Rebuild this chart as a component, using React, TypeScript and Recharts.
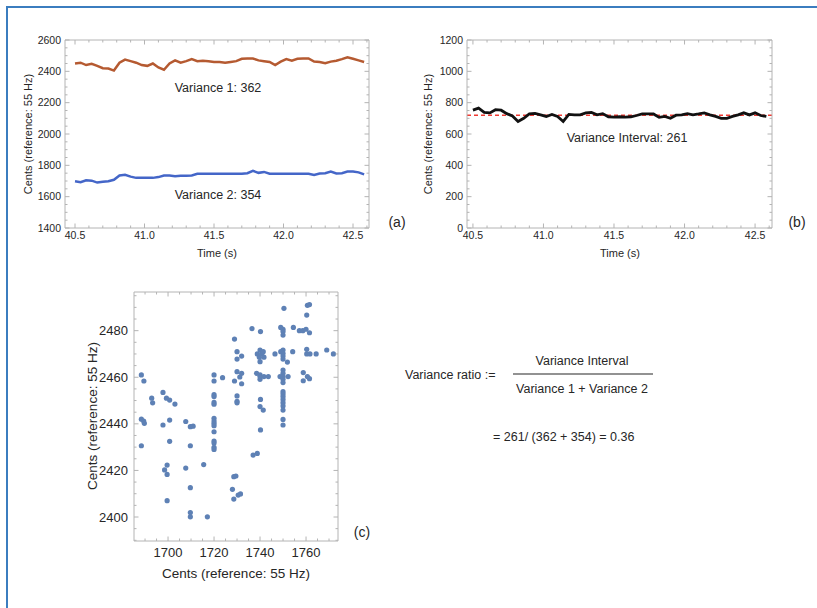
import React from 'react';
import { LineChart, Line, ScatterChart, Scatter, XAxis, YAxis, ReferenceLine } from 'recharts';

// sample times (s)
const TIMES = [
  40.5, 40.54, 40.58, 40.62, 40.66, 40.7, 40.74, 40.78, 40.82, 40.86,
  40.9, 40.94, 40.98, 41.02, 41.06, 41.1, 41.14, 41.18, 41.22, 41.26,
  41.3, 41.34, 41.38, 41.42, 41.46, 41.5, 41.54, 41.58, 41.62, 41.66,
  41.7, 41.74, 41.78, 41.82, 41.86, 41.9, 41.94, 41.98, 42.02, 42.06,
  42.1, 42.14, 42.18, 42.22, 42.26, 42.3, 42.34, 42.38, 42.42, 42.46,
  42.5, 42.54, 42.58,
];

// upper voice (cents, reference 55 Hz)
const VOICE_1 = [
  2450, 2455, 2440, 2448, 2435, 2420, 2418, 2405, 2455, 2475,
  2465, 2455, 2440, 2435, 2450, 2425, 2410, 2450, 2470, 2455,
  2465, 2478, 2465, 2468, 2465, 2460, 2460, 2455, 2460, 2465,
  2480, 2482, 2482, 2470, 2465, 2460, 2440, 2462, 2478, 2468,
  2480, 2482, 2482, 2462, 2460, 2452, 2462, 2468, 2478, 2490,
  2480, 2470, 2460,
];

// lower voice
const VOICE_2 = [
  1698, 1692, 1705, 1702, 1690, 1695, 1698, 1708, 1735, 1740,
  1728, 1720, 1720, 1720, 1720, 1725, 1735, 1735, 1730, 1733,
  1733, 1735, 1746, 1746, 1746, 1746, 1746, 1746, 1746, 1746,
  1746, 1750, 1765, 1752, 1758, 1746, 1746, 1746, 1746, 1746,
  1746, 1746, 1746, 1738, 1748, 1750, 1760, 1748, 1750, 1760,
  1760, 1755, 1742,
];

// harmonic interval between the voices
const INTERVAL = [
  752, 765, 738, 735, 755, 752, 730, 715, 680, 700,
  728, 732, 722, 712, 725, 712, 680, 725, 722, 722,
  735, 738, 722, 730, 710, 708, 710, 708, 710, 718,
  728, 728, 728, 706, 712, 700, 720, 722, 730, 722,
  728, 735, 722, 712, 700, 700, 712, 722, 735, 722,
  735, 718, 712,
];
const INTERVAL_MEAN = 720;

// scatter: lower voice (x) vs upper voice (y)
const SCATTER_LOW = [
  1688.4, 1689.5, 1688.4, 1689.4, 1689.7, 1688.4, 1692.9, 1693.3, 1697.8, 1697.8,
  1699.3, 1700.7, 1703.0, 1700.7, 1700.7, 1698.5, 1699.6, 1699.6, 1699.6, 1707.7,
  1709.7, 1710.9, 1707.7, 1709.7, 1709.7, 1709.7, 1709.7, 1717.1, 1715.5, 1720,
  1720, 1720, 1720, 1720, 1720, 1720, 1720, 1720, 1720, 1720,
  1720, 1720, 1720, 1720, 1723.7, 1728.9, 1728.9, 1730, 1730, 1730,
  1730, 1730, 1730, 1732, 1731.2, 1732, 1732, 1729.5, 1728.6, 1728,
  1728.6, 1730.5, 1731.5, 1736.5, 1740.2, 1737, 1738.8, 1738.8, 1740, 1740.7,
  1741.4, 1739.7, 1741.7, 1740, 1738.5, 1740, 1740, 1740, 1741.7, 1743.6,
  1740.2, 1740, 1741.4, 1740.2, 1746.5, 1750.4, 1749, 1750, 1750, 1750,
  1750, 1749, 1750, 1750, 1750, 1750, 1750, 1750, 1750, 1750,
  1750, 1750, 1750, 1750, 1750, 1750, 1750, 1750, 1750, 1751.9,
  1748.7, 1752.2, 1754.5, 1754.2, 1757.1, 1758.6, 1760, 1760.6, 1761.5, 1760.3,
  1761.5, 1760.3, 1760.3, 1761.7, 1764.4, 1758.8, 1758.8, 1760.6, 1761.5, 1769,
  1771.9,
];
const SCATTER_HIGH = [
  2461, 2458.4, 2442, 2441.2, 2440.2, 2430.6, 2451, 2449, 2453.5, 2439.5,
  2451, 2450.2, 2448.5, 2441.6, 2432.5, 2420.2, 2422.3, 2418.3, 2407, 2441,
  2438.8, 2439, 2421, 2430.6, 2412.6, 2401.9, 2400.1, 2400.1, 2422.5, 2461,
  2458.4, 2452.5, 2451.7, 2449.2, 2448.4, 2442.4, 2441.2, 2440.2, 2439.2, 2436.6,
  2432.6, 2431.8, 2429.9, 2429, 2459.8, 2476.4, 2458.4, 2471, 2467.8, 2462.4,
  2452, 2449.7, 2449, 2469.1, 2460.1, 2461.7, 2457.2, 2417.6, 2417.3, 2411.9,
  2407.7, 2409.4, 2409.9, 2480.9, 2479.6, 2426.6, 2427.3, 2470, 2471.7, 2470,
  2471, 2468.6, 2468.6, 2466.7, 2461.7, 2461, 2460.3, 2459.1, 2460.3, 2460.3,
  2450.5, 2447.4, 2445.9, 2437.4, 2470, 2489.6, 2481.4, 2480.6, 2479.6, 2478.1,
  2471.7, 2471, 2470.3, 2469.1, 2467.8, 2463.1, 2461.7, 2460.3, 2459.1, 2457.7,
  2453.8, 2452.8, 2451.7, 2450.5, 2449.1, 2447.7, 2445.9, 2441.9, 2439.5, 2466.5,
  2460.3, 2460.3, 2481.4, 2471, 2480, 2480, 2480.6, 2490.9, 2491.2, 2486.7,
  2479.1, 2472, 2470, 2470, 2470, 2462, 2458.5, 2460.3, 2459.4, 2471.7,
  2470,
];

// major tick labels
const TIME_TICKS = [40.5, 41.0, 41.5, 42.0, 42.5];
const CENTS_A_TICKS = [1400, 1600, 1800, 2000, 2200, 2400, 2600];
const CENTS_B_TICKS = [0, 200, 400, 600, 800, 1000, 1200];
const LOW_TICKS = [1700, 1720, 1740, 1760];
const HIGH_TICKS = [2400, 2420, 2440, 2460, 2480];

const FONT = '"Liberation Sans", Arial, Helvetica, sans-serif';
const FRAME = '#b4b4b4';
const INK = '#262626';
const BROWN = '#b55a31';
const BLUE = '#4466c8';
const DOT = '#5e81b5';

function steps(from: number, to: number, step: number): number[] {
  const out: number[] = [];
  for (let v = from; v <= to + 1e-9; v += step) out.push(Math.round(v * 100) / 100);
  return out;
}

/**
 * Mathematica-style frame tick: inward marks, labels only on majors.
 */
function FrameTick(props: any) {
  const { x, y, payload, side, majors, fontSize, gap, digits } = props;
  const v = payload.value;
  const isMajor = majors.some((m: number) => Math.abs(m - v) < 1e-6);
  const len = isMajor ? 4.5 : 2.5;
  const label = isMajor && digits !== undefined ? v.toFixed(digits) : '';
  const style = { fontSize, fontFamily: FONT, fill: INK };
  if (side === 'bottom') {
    const ay = y - gap;
    return (
      <g>
        <line x1={x} y1={ay} x2={x} y2={ay - len} stroke={FRAME} />
        {label && (
          <text x={x} y={y} dy="0.71em" textAnchor="middle" style={style}>
            {label}
          </text>
        )}
      </g>
    );
  }
  if (side === 'left') {
    const ax = x + gap;
    return (
      <g>
        <line x1={ax} y1={y} x2={ax + len} y2={y} stroke={FRAME} />
        {label && (
          <text x={x} y={y} dy="0.35em" textAnchor="end" style={style}>
            {label}
          </text>
        )}
      </g>
    );
  }
  if (side === 'top') return <line x1={x} y1={y} x2={x} y2={y + len} stroke={FRAME} />;
  return <line x1={x} y1={y} x2={x - len} y2={y} stroke={FRAME} />;
}

function frameAxes(opts: {
  xDomain: [number, number];
  yDomain: [number, number];
  xTicks: number[];
  yTicks: number[];
  xMajors: number[];
  yMajors: number[];
  xDigits: number;
  fontSize: number;
  xGap: number;
  yGap: number;
  yWidth: number;
  xHeight: number;
  xKey?: string;
  yKey?: string;
}) {
  const common = { type: 'number' as const, allowDataOverflow: true, tickSize: 0, tickLine: false, interval: 0 as const, axisLine: { stroke: FRAME } };
  return [
    <XAxis
      key="xb"
      {...common}
      dataKey={opts.xKey}
      domain={opts.xDomain}
      ticks={opts.xTicks}
      height={opts.xHeight}
      tickMargin={opts.xGap}
      tick={<FrameTick side="bottom" majors={opts.xMajors} fontSize={opts.fontSize} gap={opts.xGap} digits={opts.xDigits} />}
    />,
    // top frame edge: a 1px-high axis (zero-size axes are not drawn)
    <XAxis
      key="xt"
      {...common}
      xAxisId="top"
      orientation="top"
      dataKey={opts.xKey}
      domain={opts.xDomain}
      ticks={opts.xTicks}
      height={1}
      tickMargin={0}
      tick={<FrameTick side="top" majors={opts.xMajors} />}
    />,
    <YAxis
      key="yl"
      {...common}
      dataKey={opts.yKey}
      domain={opts.yDomain}
      ticks={opts.yTicks}
      width={opts.yWidth}
      tickMargin={opts.yGap}
      tick={<FrameTick side="left" majors={opts.yMajors} fontSize={opts.fontSize} gap={opts.yGap} digits={0} />}
    />,
    <YAxis
      key="yr"
      {...common}
      yAxisId="right"
      orientation="right"
      dataKey={opts.yKey}
      domain={opts.yDomain}
      ticks={opts.yTicks}
      width={1}
      tickMargin={0}
      tick={<FrameTick side="right" majors={opts.yMajors} />}
    />,
  ];
}

function VoicesChart() {
  const data = TIMES.map((t, i) => ({ t, v1: VOICE_1[i], v2: VOICE_2[i] }));
  return (
    <LineChart width={420} height={270} data={data} margin={{ top: 39, right: 50, bottom: 12, left: 25 }}>
      {frameAxes({
        xDomain: [40.428, 42.615],
        yDomain: [1400, 2600],
        xTicks: steps(40.5, 42.6, 0.1),
        yTicks: steps(1400, 2600, 50),
        xMajors: TIME_TICKS,
        yMajors: CENTS_A_TICKS,
        xDigits: 1,
        fontSize: 10.5,
        xGap: 3.5,
        yGap: 4,
        yWidth: 40,
        xHeight: 30,
        xKey: 't',
      })}
      <Line type="linear" dataKey="v1" stroke={BROWN} strokeWidth={2.5} dot={false} isAnimationActive={false} />
      <Line type="linear" dataKey="v2" stroke={BLUE} strokeWidth={2.5} dot={false} isAnimationActive={false} />
    </LineChart>
  );
}

function IntervalChart() {
  const data = TIMES.map((t, i) => ({ t, d: INTERVAL[i] }));
  return (
    <LineChart width={417} height={270} data={data} margin={{ top: 39, right: 44, bottom: 12, left: 27 }}>
      {frameAxes({
        xDomain: [40.458, 42.62],
        yDomain: [0, 1200],
        xTicks: steps(40.5, 42.6, 0.1),
        yTicks: steps(0, 1200, 50),
        xMajors: TIME_TICKS,
        yMajors: CENTS_B_TICKS,
        xDigits: 1,
        fontSize: 10.5,
        xGap: 3.5,
        yGap: 4,
        yWidth: 40,
        xHeight: 30,
        xKey: 't',
      })}
      <ReferenceLine y={INTERVAL_MEAN} stroke="#f03a32" strokeDasharray="4 3" strokeWidth={1.5} />
      <Line type="linear" dataKey="d" stroke="#111" strokeWidth={2.8} dot={false} isAnimationActive={false} />
    </LineChart>
  );
}

function ScatterPanel() {
  const data = SCATTER_LOW.map((x, i) => ({ x, y: SCATTER_HIGH[i] }));
  return (
    <ScatterChart width={330} height={330} margin={{ top: 21, right: 31, bottom: 19, left: 44 }}>
      {frameAxes({
        xDomain: [1685.2, 1773.9],
        yDomain: [2389.7, 2496.6],
        xTicks: steps(1690, 1770, 5),
        yTicks: steps(2390, 2495, 5),
        xMajors: LOW_TICKS,
        yMajors: HIGH_TICKS,
        xDigits: 0,
        fontSize: 13,
        xGap: 7,
        yGap: 6,
        yWidth: 50,
        xHeight: 40,
        xKey: 'x',
        yKey: 'y',
      })}
      <Scatter
        data={data}
        isAnimationActive={false}
        shape={(p: any) => <circle cx={p.cx} cy={p.cy} r={2.6} fill={DOT} />}
      />
    </ScatterChart>
  );
}

export default function App() {
  const txt = { fontFamily: FONT, fill: INK };
  return (
    <div style={{ position: 'absolute', left: 0, top: 0, width: 817, height: 608, background: '#fff', fontFamily: FONT }}>
      <div style={{ position: 'absolute', left: 0, top: 0 }}>
        <VoicesChart />
      </div>
      <div style={{ position: 'absolute', left: 400, top: 0 }}>
        <IntervalChart />
      </div>
      <div style={{ position: 'absolute', left: 40, top: 270 }}>
        <ScatterPanel />
      </div>
      <svg width={817} height={608} style={{ position: 'absolute', left: 0, top: 0, pointerEvents: 'none' }}>
        <line x1={6} y1={7} x2={817} y2={7} stroke="#3b7dbf" strokeWidth={2} />
        <line x1={7} y1={6} x2={7} y2={608} stroke="#3b7dbf" strokeWidth={2} />

        {/* panel (a) */}
        <text x={28} y={134} transform="rotate(-90 28 134)" textAnchor="middle" dominantBaseline="central" fontSize={11} style={txt}>
          Cents (reference: 55 Hz)
        </text>
        <text x={217} y={253} textAnchor="middle" dominantBaseline="central" fontSize={11} style={txt}>Time (s)</text>
        <text x={218} y={88} textAnchor="middle" dominantBaseline="central" fontSize={12.5} style={txt}>Variance 1: 362</text>
        <text x={218} y={195} textAnchor="middle" dominantBaseline="central" fontSize={12.5} style={txt}>Variance 2: 354</text>
        <text x={397} y={222} textAnchor="middle" dominantBaseline="central" fontSize={14} style={txt}>(a)</text>

        {/* panel (b) */}
        <text x={428} y={134} transform="rotate(-90 428 134)" textAnchor="middle" dominantBaseline="central" fontSize={11} style={txt}>
          Cents (reference: 55 Hz)
        </text>
        <text x={620} y={253} textAnchor="middle" dominantBaseline="central" fontSize={11} style={txt}>Time (s)</text>
        <text x={627} y={138} textAnchor="middle" dominantBaseline="central" fontSize={12.5} style={txt}>Variance Interval: 261</text>
        <text x={797} y={222} textAnchor="middle" dominantBaseline="central" fontSize={14} style={txt}>(b)</text>

        {/* panel (c) */}
        <text x={92} y={416} transform="rotate(-90 92 416)" textAnchor="middle" dominantBaseline="central" fontSize={13.5} style={txt}>
          Cents (reference: 55 Hz)
        </text>
        <text x={236} y={573} textAnchor="middle" dominantBaseline="central" fontSize={13.5} style={txt}>Cents (reference: 55 Hz)</text>
        <text x={362} y={532} textAnchor="middle" dominantBaseline="central" fontSize={14} style={txt}>(c)</text>

        {/* ratio */}
        <text x={405} y={375} dominantBaseline="central" fontSize={12.5} style={txt}>Variance ratio :=</text>
        <text x={582} y={361} textAnchor="middle" dominantBaseline="central" fontSize={12.5} style={txt}>Variance Interval</text>
        <line x1={513} y1={374} x2={653} y2={374} stroke={INK} strokeWidth={1.2} />
        <text x={582} y={389} textAnchor="middle" dominantBaseline="central" fontSize={12.5} style={txt}>Variance 1 + Variance 2</text>
        <text x={493} y={437} dominantBaseline="central" fontSize={12.5} style={txt}>=  261/ (362 + 354) = 0.36</text>
      </svg>
    </div>
  );
}
